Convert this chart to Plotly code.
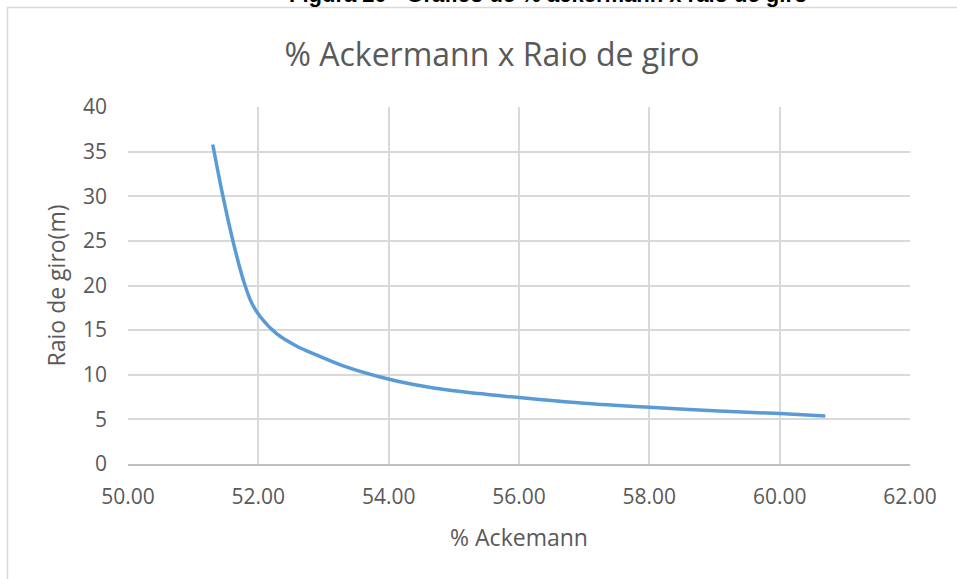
import plotly.graph_objects as go

# % Ackermann vs. turning radius (m)
ackermann_pct = [51.30, 51.46, 51.62, 51.77, 51.90, 52.03, 52.28, 52.59, 52.90,
                 53.36, 53.87, 54.38, 55.00, 56.00, 57.00, 58.00, 59.06, 60.00, 60.70]
raio_giro = [35.8, 29.9, 24.7, 20.6, 18.0, 16.5, 14.6, 13.2, 12.2,
             10.85, 9.75, 8.9, 8.2, 7.45, 6.8, 6.35, 5.95, 5.65, 5.37]

x_ticks = [50, 52, 54, 56, 58, 60, 62]
x_tick_labels = ["50.00", "52.00", "54.00", "56.00", "58.00", "60.00", "62.00"]
y_ticks = [0, 5, 10, 15, 20, 25, 30, 35, 40]

TEXT = "#595959"
GRID = "#d9d9d9"
FONT = "'Open Sans', Lato, sans-serif"

W, H = 957, 579
L, R, T, B = 128, 47, 107, 115
pw, ph = W - L - R, H - T - B


def px_x(px):
    return (px - L) / pw


def px_y(py):
    return (H - B - py) / ph


fig = go.Figure()
fig.add_trace(go.Scatter(
    x=ackermann_pct, y=raio_giro, mode="lines",
    line=dict(color="#5b9bd5", width=3.5, shape="spline", smoothing=1.0),
    hoverinfo="x+y", showlegend=False,
))

fig.update_layout(
    width=W, height=H,
    margin=dict(l=L, r=R, t=T, b=B),
    paper_bgcolor="white", plot_bgcolor="white",
    font=dict(family=FONT, color=TEXT, size=21),
    title=dict(text="% Ackermann x Raio de giro", x=px_x(492), xref="paper",
               xanchor="center", y=1 - 55 / H, yanchor="middle",
               font=dict(size=32, color=TEXT, family=FONT)),
    xaxis=dict(range=[50, 62], tickvals=x_ticks, ticktext=x_tick_labels,
               showgrid=True, gridcolor=GRID, gridwidth=1.5,
               showline=True, linecolor="#bfbfbf", linewidth=1.5,
               zeroline=False, ticks="", ticklen=0, ticklabelstandoff=13,
               tickfont=dict(size=21, color=TEXT),
               title=dict(text="% Ackemann", font=dict(size=23, color=TEXT),
                          standoff=21)),
    yaxis=dict(range=[0, 40], tickvals=y_ticks,
               showgrid=True, gridcolor=GRID, gridwidth=1.5,
               showline=False, zeroline=False, ticks="", ticklabelstandoff=20,
               tickfont=dict(size=21, color=TEXT),
               title=dict(text="Raio de giro(m)", font=dict(size=23, color=TEXT),
                          standoff=10)),
    shapes=[
        # outer chart frame (extends past right and bottom edges)
        dict(type="rect", xref="paper", yref="paper",
             x0=px_x(7.5), x1=px_x(W + 20), y0=px_y(H + 20), y1=px_y(7.5),
             line=dict(color="#d9d9d9", width=1.5), layer="below"),
    ],
    annotations=[
        dict(text="<b>Figura 20 - Gráfico de % ackermann x raio de giro</b>",
             xref="paper", yref="paper", x=px_x(548), y=px_y(9),
             xanchor="center", yanchor="bottom", showarrow=False,
             font=dict(family="Liberation Sans, Arial, sans-serif", size=22,
                       color="#000000")),
    ],
)

fig.write_html("out.html")
